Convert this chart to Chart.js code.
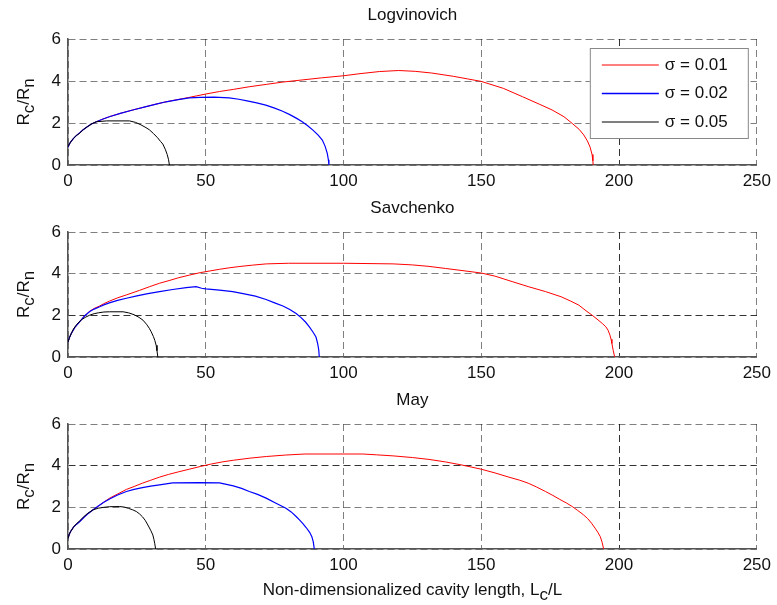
<!DOCTYPE html>
<html>
<head>
<meta charset="utf-8">
<title>Cavity profiles</title>
<script src="https://cdn.jsdelivr.net/npm/chart.js@4.4.0/dist/chart.umd.min.js"></script>
<style>
  body { margin: 0; background: #fff; }
  .panel { position: absolute; left: 0; width: 777px; }
</style>
</head>
<body>
<div class="panel" style="top:0px;height:193px"><canvas id="chart1"></canvas></div>
<div class="panel" style="top:193px;height:192px"><canvas id="chart2"></canvas></div>
<div class="panel" style="top:385px;height:220px"><canvas id="chart3"></canvas></div>
<script>
// データ[x, y]
const panelTitles = ["Logvinovich", "Savchenko", "May"];
const sigmaLabels = ["σ = 0.01", "σ = 0.02", "σ = 0.05"];
const xTicks = [0, 50, 100, 150, 200, 250];
const yTicks = [0, 2, 4, 6];

// Logvinovich
const logv001 = [[0,0.85],[0.5,1.0],[1,1.1],[2,1.27],[3,1.4],[4.2,1.53],[5.5,1.68],[7,1.82],[8.5,1.95],[10.3,2.06],[12.5,2.18],[15,2.3],[19,2.46],[23.5,2.62],[28,2.77],[32,2.9],[35.6,3.01],[40,3.12],[44,3.22],[50,3.38],[55,3.5],[60,3.6],[66,3.73],[72,3.84],[78,3.95],[85,4.05],[92,4.15],[100,4.25],[106,4.35],[113,4.45],[120,4.5],[126,4.46],[132,4.38],[140,4.22],[145,4.1],[150,3.98],[158,3.65],[165,3.25],[171,2.9],[175.7,2.62],[180,2.3],[183,1.98],[185.5,1.7],[187.2,1.43],[188.5,1.15],[189.5,0.85],[190.2,0.5],[190.5,0.2],[190.6,0]];
const logv002 = [[0,0.85],[0.5,1.0],[1,1.1],[2,1.27],[3,1.4],[4.2,1.53],[5.5,1.68],[7,1.82],[8.5,1.95],[10.3,2.06],[12.5,2.18],[15,2.3],[19,2.46],[23.5,2.62],[28,2.77],[32,2.9],[35.6,3.01],[40,3.11],[44,3.2],[48,3.22],[53,3.23],[58.5,3.2],[62,3.13],[65,3.05],[68.5,2.96],[71.8,2.85],[75,2.71],[77.9,2.56],[80.5,2.4],[83,2.22],[85,2.06],[87,1.87],[89,1.65],[90.8,1.42],[92.3,1.19],[93.3,0.9],[94.1,0.55],[94.5,0.25],[94.7,0]];
const logv005 = [[0,0.87],[0.5,1.0],[1,1.1],[2,1.27],[3,1.4],[4.2,1.51],[5.5,1.68],[7,1.82],[8.5,1.95],[10.3,2.06],[14,2.1],[22.3,2.1],[24.5,2.03],[26.5,1.91],[28.3,1.78],[29.6,1.67],[31,1.5],[32.5,1.3],[33.6,1.12],[34.4,1.0],[35.3,0.75],[36,0.5],[36.5,0.25],[36.8,0]];

// Savchenko
const sav001 = [[0,0.72],[0.5,0.92],[1.2,1.13],[2.5,1.42],[4.2,1.69],[6,1.97],[7.9,2.2],[9.5,2.33],[11.5,2.45],[13,2.56],[15,2.68],[18,2.84],[21.2,2.98],[26,3.2],[29.5,3.37],[33.2,3.54],[37,3.68],[40,3.8],[44,3.93],[48,4.05],[51.5,4.13],[55,4.21],[58.5,4.28],[62,4.34],[67,4.41],[72,4.47],[80,4.5],[100,4.5],[118,4.47],[125,4.42],[131,4.35],[137,4.25],[143,4.15],[150,4.03],[155,3.88],[161.2,3.62],[167,3.38],[173.3,3.14],[179,2.89],[182.5,2.68],[185.4,2.49],[188,2.22],[190.2,2.01],[192,1.82],[194,1.6],[195.2,1.45],[196,1.29],[196.7,1.05],[197.1,0.85],[197.4,0.65],[197.9,0.3],[198.4,0]];
const sav002 = [[0,0.72],[0.5,0.92],[1.2,1.13],[2.5,1.42],[4.2,1.69],[6,1.97],[7.9,2.18],[9.5,2.3],[11.5,2.41],[13,2.5],[15,2.6],[18,2.72],[21.2,2.82],[25,2.93],[29,3.04],[33.2,3.14],[38,3.24],[42.9,3.33],[46.5,3.38],[48.5,3.3],[50,3.27],[55,3.21],[59.8,3.14],[64,3.03],[68,2.92],[71.9,2.76],[75,2.6],[78,2.45],[80.5,2.28],[82.8,2.09],[84.5,1.9],[86.2,1.68],[87.6,1.45],[88.9,1.2],[90,0.96],[90.6,0.65],[91,0.35],[91.2,0]];
const sav005 = [[0,0.72],[0.5,0.92],[1.2,1.13],[2,1.35],[3,1.53],[4,1.68],[5,1.8],[6.5,1.92],[7.9,2.01],[9.5,2.08],[11,2.12],[13,2.16],[15,2.17],[20,2.17],[22,2.12],[24,2.03],[25.8,1.9],[27.2,1.77],[28.5,1.57],[29.5,1.38],[30.2,1.21],[31,0.98],[31.5,0.8],[32,0.56],[32.3,0.3],[32.6,0]];

// May
const may001 = [[0,0.51],[0.5,0.72],[1,0.85],[2,1.05],[3,1.18],[4.2,1.31],[6,1.55],[7.5,1.72],[9.1,1.88],[11,2.05],[13,2.25],[15.1,2.44],[18,2.64],[21.2,2.86],[24,3.0],[27,3.16],[30,3.3],[33.2,3.45],[36.5,3.58],[40,3.7],[44,3.83],[48,3.96],[52,4.08],[56,4.18],[60,4.26],[66,4.36],[72,4.44],[79,4.51],[86,4.56],[107,4.56],[112,4.52],[118,4.47],[125,4.39],[131,4.3],[137,4.18],[143,4.03],[150,3.83],[155,3.65],[160,3.45],[164,3.3],[167,3.16],[170,2.98],[173.3,2.76],[176,2.57],[178.5,2.38],[181,2.2],[183,2.04],[185,1.85],[187,1.65],[188.6,1.46],[190,1.24],[191.3,1.0],[192.4,0.78],[193.2,0.59],[193.9,0.3],[194.4,0]];
const may002 = [[0,0.51],[0.5,0.72],[1,0.85],[2,1.05],[3,1.18],[4.2,1.31],[6,1.55],[7.5,1.72],[9.1,1.88],[11,2.06],[13,2.24],[15.1,2.4],[18,2.59],[21.2,2.76],[24,2.86],[27,2.95],[30,3.02],[33.2,3.08],[38,3.17],[47.7,3.19],[55,3.17],[57.5,3.1],[60,3.03],[63,2.91],[65.8,2.76],[68.8,2.62],[71.9,2.44],[75.5,2.2],[79.1,1.96],[81,1.78],[82.8,1.56],[84,1.4],[85.1,1.24],[86.5,1.02],[87.7,0.8],[88.5,0.59],[89,0.35],[89.4,0]];
const may005 = [[0,0.51],[0.5,0.72],[1,0.85],[2,1.05],[3,1.2],[4.2,1.35],[5.5,1.52],[7,1.7],[9.1,1.88],[11,1.96],[13,2.0],[15,2.03],[18.7,2.04],[20.5,2.01],[22,1.95],[23.5,1.88],[24.8,1.8],[26,1.68],[27,1.55],[28,1.38],[29,1.15],[30,0.9],[30.8,0.67],[31.2,0.45],[31.5,0.25],[31.8,0]];

const FONT = "'Liberation Sans', Arial, Helvetica, sans-serif";
const lineColors = ["#ff0000", "#0000ff", "#000000"];

// 下付き文字つきテキスト描画
function drawSubText(ctx, parts, x, y) {
  ctx.font = "17px " + FONT;
  let w = 0;
  parts.forEach(p => { w += ctx.measureText(p[0]).width; });
  let cx = x - w / 2;
  ctx.textAlign = "left";
  ctx.textBaseline = "middle";
  parts.forEach(p => {
    ctx.fillText(p[0], cx, y + (p[1] ? 5 : 0));
    cx += ctx.measureText(p[0]).width;
  });
}

// 軸タイトルと凡例
const extrasPlugin = {
  id: "extras",
  afterDraw(chart, args, opts) {
    const ctx = chart.ctx;
    const a = chart.chartArea;
    ctx.save();
    ctx.fillStyle = "#111";
    ctx.translate(24, (a.top + a.bottom) / 2);
    ctx.rotate(-Math.PI / 2);
    drawSubText(ctx, [["R", false], ["c", true], ["/R", false], ["n", true]], 0, 0);
    ctx.restore();

    if (opts.xTitle) {
      ctx.save();
      ctx.fillStyle = "#111";
      drawSubText(ctx, [["Non-dimensionalized cavity length, L", false], ["c", true], ["/L", false]], (a.left + a.right) / 2, a.bottom + 41);
      ctx.restore();
    }

    if (opts.legend) {
      const bw = 158, bh = 90;
      const bx = a.right - 9 - bw, by = a.top + 9;
      ctx.save();
      ctx.fillStyle = "#fff";
      ctx.fillRect(bx, by, bw, bh);
      ctx.strokeStyle = "#888";
      ctx.lineWidth = 1;
      ctx.strokeRect(bx + 0.5, by + 0.5, bw, bh);
      chart.data.datasets.forEach((ds, i) => {
        const ly = by + 17 + i * 28.5;
        ctx.strokeStyle = ds.borderColor;
        ctx.lineWidth = i === 1 ? 1.6 : 1;
        ctx.beginPath();
        ctx.moveTo(bx + 12, ly);
        ctx.lineTo(bx + 69, ly);
        ctx.stroke();
        ctx.fillStyle = "#111";
        ctx.font = "17px " + FONT;
        ctx.textAlign = "left";
        ctx.textBaseline = "middle";
        ctx.fillText(ds.label, bx + 75, ly);
      });
      ctx.restore();
    }
  }
};

function toPoints(arr) {
  return arr.map(p => ({ x: p[0], y: p[1] }));
}

function makePanel(canvasId, title, series, xAxisHeight, darkX, darkY, extras) {
  const datasets = series.map((s, i) => ({
    label: sigmaLabels[i],
    data: toPoints(s),
    showLine: true,
    borderColor: lineColors[i],
    borderWidth: i === 1 ? 1.2 : 1,
    pointRadius: 0,
    fill: false,
    order: 2 - i,
  }));

  const gridColor = (list) => (c) =>
    c.tick && list.includes(c.tick.value) ? "rgba(0,0,0,0.8)" : "rgba(0,0,0,0.5)";

  return new Chart(document.getElementById(canvasId), {
    type: "scatter",
    data: { datasets: datasets },
    plugins: [extrasPlugin],
    options: {
      responsive: true,
      maintainAspectRatio: false,
      animation: false,
      events: [],
      layout: { padding: { left: 0, right: 17, top: 0, bottom: 0 } },
      plugins: {
        legend: { display: false },
        tooltip: { enabled: false },
        title: {
          display: true,
          text: title,
          fullSize: false,
          color: "#111",
          font: { family: FONT, size: 17, weight: "normal" },
          padding: { top: 5, bottom: 13.6 },
        },
        extras: extras,
      },
      scales: {
        x: {
          type: "linear",
          min: xTicks[0],
          max: xTicks[xTicks.length - 1],
          afterBuildTicks: (scale) => { scale.ticks = xTicks.map(v => ({ value: v })); },
          afterFit: (scale) => { scale.height = xAxisHeight; },
          ticks: { color: "#111", font: { family: FONT, size: 17 }, padding: 6, maxRotation: 0 },
          grid: { drawTicks: false, color: gridColor(darkX), lineWidth: 1 },
          border: { display: true, color: "#555", width: 1.5, dash: [7, 4] },
        },
        y: {
          min: yTicks[0],
          max: yTicks[yTicks.length - 1],
          afterBuildTicks: (scale) => { scale.ticks = yTicks.map(v => ({ value: v })); },
          afterFit: (scale) => { scale.width = 68; },
          ticks: { color: "#111", font: { family: FONT, size: 17 }, padding: 7 },
          grid: { drawTicks: false, color: gridColor(darkY), lineWidth: 1 },
          border: { display: true, color: "#555", width: 1.5, dash: [7, 4] },
        },
      },
    },
  });
}

makePanel("chart1", panelTitles[0], [logv001, logv002, logv005], 28, [200], [], { legend: true });
makePanel("chart2", panelTitles[1], [sav001, sav002, sav005], 28, [200], [2], {});
makePanel("chart3", panelTitles[2], [may001, may002, may005], 56, [200], [4], { xTitle: true });
</script>
</body>
</html>
